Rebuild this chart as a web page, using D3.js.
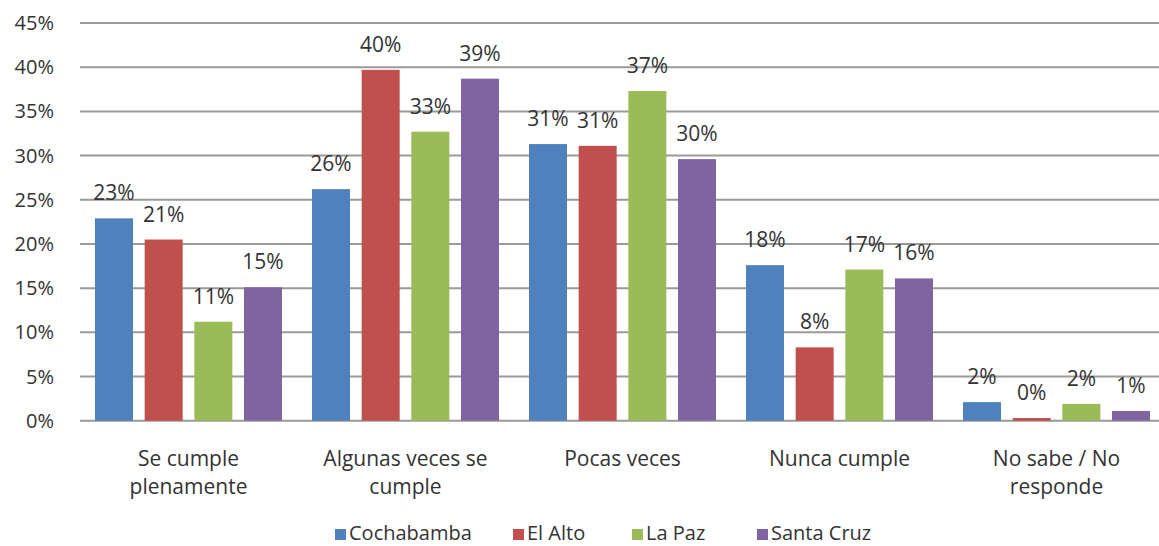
<!DOCTYPE html>
<html lang="es">
<head>
<meta charset="UTF-8">
<title>Cumplimiento por ciudad</title>
<script src="https://d3js.org/d3.v7.min.js"></script>
<style>
  body { margin: 0; background: #fff; }
  svg text { font-family: "Open Sans", sans-serif; fill: #333; }
</style>
</head>
<body>
<div id="chart"></div>
<script>
// categories and series
const categories = [
    ["Se cumple", "plenamente"],
    ["Algunas veces se", "cumple"],
    ["Pocas veces"],
    ["Nunca cumple"],
    ["No sabe / No", "responde"]
];
const cities = ["Cochabamba", "El Alto", "La Paz", "Santa Cruz"];
const colors = ["#4F81BD", "#C0504D", "#9BBB59", "#8064A2"];

// values in percent, one array per city (bar height), and the label printed on it
const cochabamba = [22.9, 26.2, 31.3, 17.6, 2.1];
const elAlto     = [20.5, 39.7, 31.1, 8.3, 0.3];
const laPaz      = [11.2, 32.7, 37.3, 17.1, 1.9];
const santaCruz  = [15.1, 38.7, 29.6, 16.1, 1.1];
const labels = [
    ["23%", "26%", "31%", "18%", "2%"],
    ["21%", "40%", "31%", "8%", "0%"],
    ["11%", "33%", "37%", "17%", "2%"],
    ["15%", "39%", "30%", "16%", "1%"]
];
const yTicks = [0, 5, 10, 15, 20, 25, 30, 35, 40, 45];

const series = [cochabamba, elAlto, laPaz, santaCruz];

const width = 1159, height = 546;
const margin = {top: 23, left: 80, bottom: 126};
const plotRight = 1165;

const svg = d3.select("#chart").append("svg")
    .attr("width", width)
    .attr("height", height);

const y = d3.scaleLinear()
    .domain([0, 45])
    .range([height - margin.bottom + 0.7, margin.top]);

const x0 = d3.scaleBand()
    .domain(d3.range(categories.length))
    .range([margin.left, plotRight])
    .padding(0);

const x1 = d3.scaleBand()
    .domain(d3.range(cities.length))
    .range([15, x0.bandwidth() - 15])
    .paddingInner(0.235);

// gridlines
svg.append("g")
    .selectAll("line")
    .data(yTicks)
    .join("line")
    .attr("x1", margin.left)
    .attr("x2", width)
    .attr("y1", d => y(d))
    .attr("y2", d => y(d))
    .attr("stroke", "#9a9a9a")
    .attr("stroke-width", 2);

// y axis labels
svg.append("g")
    .selectAll("text")
    .data(yTicks)
    .join("text")
    .attr("x", 54)
    .attr("y", d => y(d))
    .attr("dy", "0.35em")
    .attr("text-anchor", "end")
    .style("font-size", "20px")
    .text(d => d + "%");

// bars
const groups = svg.append("g")
    .selectAll("g")
    .data(categories)
    .join("g")
    .attr("transform", (d, i) => `translate(${x0(i)},0)`);

const barData = (d, i) => series.map((s, j) => ({j, v: s[i], label: labels[j][i]}));

groups.selectAll("rect")
    .data(barData)
    .join("rect")
    .attr("x", d => x1(d.j))
    .attr("width", x1.bandwidth())
    .attr("y", d => y(d.v))
    .attr("height", d => y(0) - y(d.v))
    .attr("fill", d => colors[d.j]);

groups.selectAll("text.val")
    .data(barData)
    .join("text")
    .attr("class", "val")
    .attr("x", d => x1(d.j) + x1.bandwidth() / 2)
    .attr("y", d => y(d.v) - 18)
    .attr("text-anchor", "middle")
    .style("font-size", "21px")
    .text(d => d.label);

// category labels
const catText = svg.append("g")
    .selectAll("text")
    .data(categories)
    .join("text")
    .attr("x", (d, i) => x0(i) + x0.bandwidth() / 2)
    .attr("y", 466)
    .attr("text-anchor", "middle")
    .style("font-size", "21px");

catText.selectAll("tspan")
    .data(d => d)
    .join("tspan")
    .attr("x", function() { return this.parentNode.getAttribute("x"); })
    .attr("dy", (d, i) => i === 0 ? 0 : 28)
    .text(d => d);

// legend
const legendX = [335, 513, 632, 757];
const legend = svg.append("g")
    .selectAll("g")
    .data(cities)
    .join("g")
    .attr("transform", (d, i) => `translate(${legendX[i]},540)`);

legend.append("rect")
    .attr("x", 0)
    .attr("y", -11)
    .attr("width", 11)
    .attr("height", 11)
    .attr("fill", (d, i) => colors[i]);

legend.append("text")
    .attr("x", 14)
    .attr("y", 0)
    .style("font-size", "20px")
    .text(d => d);
</script>
</body>
</html>
